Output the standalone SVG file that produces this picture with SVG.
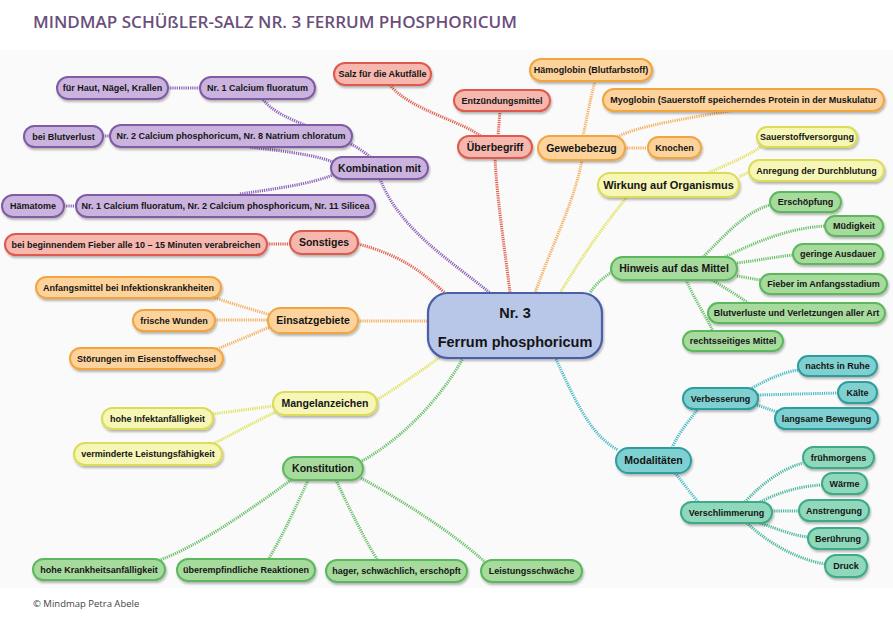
<svg xmlns="http://www.w3.org/2000/svg" width="893" height="619" viewBox="0 0 893 619">
<defs>
<filter id="sh" x="-10%" y="-30%" width="120%" height="170%">
<feDropShadow dx="1" dy="2" stdDeviation="1.2" flood-color="#000" flood-opacity="0.28"/>
</filter>
<style>
text{font-family:"Liberation Sans",Arial,sans-serif;font-weight:bold;fill:#151515;text-anchor:middle}
.s{font-size:9px}
.m{font-size:10.5px}
.n rect{stroke-width:2;filter:url(#sh)}
.pu rect{fill:#cbb3df;stroke:#7f5ca3}
.re rect{fill:#f5b7ae;stroke:#df5a4e}
.or rect{fill:#fcd39c;stroke:#f2a43e}
.ye rect{fill:#f6f6b6;stroke:#dcdc58}
.gr rect{fill:#a7da9d;stroke:#5cb85c}
.te rect{fill:#7fd0d0;stroke:#2f9d9d}
.mi rect{fill:#8fd8bc;stroke:#3caa88}
.ce rect{fill:#b8c6e8;stroke:#4b5ea8;stroke-width:2.2}
#connectors path{fill:none;stroke-width:3;stroke-dasharray:1.2 1}
.cp{stroke:#8b62b8}
.cr{stroke:#e0604f}
.co{stroke:#f5b060}
.cy{stroke:#e2e25c}
.cg{stroke:#6cc06c}
.ct{stroke:#4cbcc6}
.cm{stroke:#4cb8a0}
</style>
</defs>
<rect x="0" y="0" width="893" height="619" fill="#ffffff"/>
<rect x="0" y="50" width="893" height="538" fill="#fafafa"/>
<text x="33" y="28" textLength="484" lengthAdjust="spacingAndGlyphs" style="font-family:'Open Sans','Lato',sans-serif;font-size:15.5px;font-weight:600;fill:#6b4f7b;text-anchor:start">MINDMAP SCHÜßLER-SALZ NR. 3 FERRUM PHOSPHORICUM</text>
<text x="33" y="607" style="font-family:'Open Sans','Lato',sans-serif;font-size:9.5px;font-weight:normal;fill:#444;text-anchor:start">© Mindmap Petra Abele</text>

<g id="connectors">
<path class="cp" d="M168,88 L200,88"/>
<path class="cp" d="M262,98 C280,125 340,130 370,157"/>
<path class="cp" d="M103,136 L110,136"/>
<path class="cp" d="M250,147 C290,152 315,155 333,162"/>
<path class="cp" d="M64,206 L76,206"/>
<path class="cp" d="M240,194 C280,188 310,184 333,175"/>
<path class="cp" d="M380,179 C400,230 450,260 490,293"/>
<path class="cr" d="M390,85 C410,110 460,120 482,137"/>
<path class="cr" d="M500,111 L498,136"/>
<path class="cr" d="M495,158 C497,200 505,250 510,293"/>
<path class="cr" d="M267,244 L290,244"/>
<path class="cr" d="M358,244 C400,255 420,270 445,293"/>
<path class="co" d="M595,81 C590,100 587,118 583,136"/>
<path class="co" d="M730,111 C690,118 640,125 617,137"/>
<path class="co" d="M625,148 L648,148"/>
<path class="co" d="M582,160 C575,200 550,250 535,293"/>
<path class="co" d="M358,321 L428,321"/>
<path class="co" d="M213,297 C235,305 255,310 270,315"/>
<path class="co" d="M215,320 L268,320"/>
<path class="co" d="M217,349 C235,342 255,333 270,327"/>
<path class="cy" d="M762,146 C745,158 725,165 708,173"/>
<path class="cy" d="M749,172 L739,177"/>
<path class="cy" d="M627,197 C600,230 580,260 560,293"/>
<path class="cy" d="M377,400 C400,385 420,372 440,357"/>
<path class="cy" d="M213,414 L273,406"/>
<path class="cy" d="M215,443 C240,430 258,420 276,412"/>
<path class="cg" d="M612,272 C600,280 595,285 590,293"/>
<path class="cg" d="M703,257 C725,235 745,212 770,205"/>
<path class="cg" d="M725,257 C760,240 790,228 825,226"/>
<path class="cg" d="M737,263 C760,260 775,257 793,255"/>
<path class="cg" d="M737,276 L760,280"/>
<path class="cg" d="M712,280 C725,288 737,295 748,303"/>
<path class="cg" d="M686,280 C695,300 705,315 713,331"/>
<path class="cg" d="M362,461 C400,440 440,400 463,358"/>
<path class="cg" d="M291,480 C250,510 200,545 160,560"/>
<path class="cg" d="M308,480 C295,510 280,540 268,560"/>
<path class="cg" d="M336,480 C350,510 365,540 378,561"/>
<path class="cg" d="M361,478 C410,505 455,535 485,562"/>
<path class="ct" d="M555,357 C575,400 590,435 618,450"/>
<path class="ct" d="M672,448 C680,430 690,420 698,409"/>
<path class="ct" d="M675,473 C685,485 692,495 698,502"/>
<path class="ct" d="M752,388 C770,378 785,372 798,370"/>
<path class="ct" d="M758,395 L838,393"/>
<path class="ct" d="M757,405 L777,412"/>
<path class="cm" d="M745,502 C765,480 785,468 803,463"/>
<path class="cm" d="M760,502 C780,492 800,486 822,485"/>
<path class="cm" d="M772,511 L799,511"/>
<path class="cm" d="M760,523 C780,530 795,536 808,537"/>
<path class="cm" d="M747,523 C770,545 800,560 825,564"/>
</g>

<g id="center" class="n ce"><rect x="428" y="293" width="174" height="65" rx="20"/><text x="515" y="318" style="font-size:14.5px">Nr. 3</text><text x="515" y="347" style="font-size:14.5px">Ferrum phosphoricum</text></g>

<g id="p1" class="n pu"><rect x="57" y="77" width="111" height="22" rx="11"/><text class="s" x="112.5" y="91.2">für Haut, Nägel, Krallen</text></g>
<g id="p2" class="n pu"><rect x="200" y="77" width="115" height="22" rx="11"/><text class="s" x="257.5" y="91.2">Nr. 1 Calcium fluoratum</text></g>
<g id="p3" class="n pu"><rect x="24" y="126" width="79" height="21" rx="10.5"/><text class="s" x="63.5" y="139.7">bei Blutverlust</text></g>
<g id="p4" class="n pu"><rect x="110" y="125" width="242" height="22" rx="11"/><text class="s" x="231" y="139.2">Nr. 2 Calcium phosphoricum, Nr. 8 Natrium chloratum</text></g>
<g id="p5" class="n pu"><rect x="331" y="157" width="97" height="22" rx="11"/><text class="m" x="379.5" y="171.8">Kombination mit</text></g>
<g id="p6" class="n pu"><rect x="2" y="195" width="62" height="22" rx="11"/><text class="s" x="33" y="209.2">Hämatome</text></g>
<g id="p7" class="n pu"><rect x="76" y="195" width="299" height="22" rx="11"/><text class="s" x="225.5" y="209.2">Nr. 1 Calcium fluoratum, Nr. 2 Calcium phosphoricum, Nr. 11 Silicea</text></g>

<g id="r1" class="n re"><rect x="334" y="63" width="97" height="22" rx="11"/><text class="s" x="382.5" y="77.2">Salz für die Akutfälle</text></g>
<g id="r2" class="n re"><rect x="454" y="90" width="96" height="21" rx="10.5"/><text class="s" x="502" y="103.7">Entzündungsmittel</text></g>
<g id="r3" class="n re"><rect x="458" y="136" width="74" height="22" rx="11"/><text class="m" x="495" y="150.8">Überbegriff</text></g>
<g id="r4" class="n re"><rect x="290" y="231" width="68" height="23" rx="11.5"/><text class="m" x="324" y="246.3">Sonstiges</text></g>
<g id="r5" class="n re"><rect x="5" y="234" width="262" height="21" rx="10.5"/><text class="s" x="136" y="247.7">bei beginnendem Fieber alle 10 – 15 Minuten verabreichen</text></g>

<g id="o1" class="n or"><rect x="530" y="59" width="122" height="22" rx="11"/><text class="s" x="591" y="73.2">Hämoglobin (Blutfarbstoff)</text></g>
<g id="o2" class="n or"><rect x="603" y="89" width="281" height="22" rx="11"/><text class="s" x="743.5" y="103.2">Myoglobin (Sauerstoff speicherndes Protein in der Muskulatur</text></g>
<g id="o3" class="n or"><rect x="538" y="136" width="87" height="24" rx="12"/><text class="m" x="581.5" y="151.8">Gewebebezug</text></g>
<g id="o4" class="n or"><rect x="648" y="137" width="53" height="21" rx="10.5"/><text class="s" x="674.5" y="150.7">Knochen</text></g>
<g id="o5" class="n or"><rect x="268" y="308" width="90" height="25" rx="12.5"/><text class="m" x="313" y="324.3">Einsatzgebiete</text></g>
<g id="o6" class="n or"><rect x="36" y="277" width="185" height="21" rx="10.5"/><text class="s" x="128.5" y="290.7">Anfangsmittel bei Infektionskrankheiten</text></g>
<g id="o7" class="n or"><rect x="133" y="310" width="82" height="21" rx="10.5"/><text class="s" x="174" y="323.7">frische Wunden</text></g>
<g id="o8" class="n or"><rect x="70" y="348" width="153" height="21" rx="10.5"/><text class="s" x="146.5" y="361.7">Störungen im Eisenstoffwechsel</text></g>

<g id="y1" class="n ye"><rect x="598" y="173" width="141" height="24" rx="12"/><text x="668.5" y="189" style="font-size:11px">Wirkung auf Organismus</text></g>
<g id="y2" class="n ye"><rect x="757" y="127" width="100" height="20" rx="10"/><text class="s" x="807" y="140.2">Sauerstoffversorgung</text></g>
<g id="y3" class="n ye"><rect x="749" y="160" width="135" height="21" rx="10.5"/><text class="s" x="816.5" y="173.7">Anregung der Durchblutung</text></g>
<g id="y4" class="n ye"><rect x="273" y="392" width="104" height="23" rx="11.5"/><text class="m" x="325" y="407.3">Mangelanzeichen</text></g>
<g id="y5" class="n ye"><rect x="102" y="408" width="111" height="21" rx="10.5"/><text class="s" x="157.5" y="421.7">hohe Infektanfälligkeit</text></g>
<g id="y6" class="n ye"><rect x="74" y="443" width="148" height="22" rx="11"/><text class="s" x="148" y="457.2">verminderte Leistungsfähigkeit</text></g>

<g id="g1" class="n gr"><rect x="611" y="257" width="126" height="23" rx="11.5"/><text class="m" x="674" y="272.3">Hinweis auf das Mittel</text></g>
<g id="g2" class="n gr"><rect x="770" y="192" width="71" height="20" rx="10"/><text class="s" x="805.5" y="205.2">Erschöpfung</text></g>
<g id="g3" class="n gr"><rect x="825" y="216" width="58" height="20" rx="10"/><text class="s" x="854" y="229.2">Müdigkeit</text></g>
<g id="g4" class="n gr"><rect x="793" y="244" width="90" height="20" rx="10"/><text class="s" x="838" y="257.2">geringe Ausdauer</text></g>
<g id="g5" class="n gr"><rect x="760" y="274" width="127" height="20" rx="10"/><text class="s" x="823.5" y="287.2">Fieber im Anfangsstadium</text></g>
<g id="g6" class="n gr"><rect x="708" y="303" width="177" height="20" rx="10"/><text class="s" x="796.5" y="316.2">Blutverluste und Verletzungen aller Art</text></g>
<g id="g7" class="n gr"><rect x="683" y="331" width="100" height="20" rx="10"/><text class="s" x="733" y="344.2">rechtsseitiges Mittel</text></g>
<g id="g8" class="n gr"><rect x="283" y="457" width="80" height="23" rx="11.5"/><text class="m" x="323" y="472.3">Konstitution</text></g>
<g id="g9" class="n gr"><rect x="33" y="559" width="132" height="21" rx="10.5"/><text class="s" x="99" y="572.7">hohe Krankheitsanfälligkeit</text></g>
<g id="g10" class="n gr"><rect x="177" y="559" width="138" height="22" rx="11"/><text class="s" x="246" y="573.2">überempfindliche Reaktionen</text></g>
<g id="g11" class="n gr"><rect x="326" y="560" width="141" height="22" rx="11"/><text class="s" x="396.5" y="574.2">hager, schwächlich, erschöpft</text></g>
<g id="g12" class="n gr"><rect x="481" y="560" width="101" height="22" rx="11"/><text class="s" x="531.5" y="574.2">Leistungsschwäche</text></g>

<g id="t1" class="n te"><rect x="616" y="448" width="75" height="25" rx="12.5"/><text class="m" x="653.5" y="464.3">Modalitäten</text></g>
<g id="t2" class="n te"><rect x="683" y="388" width="75" height="21" rx="10.5"/><text class="s" x="720.5" y="401.7">Verbesserung</text></g>
<g id="t3" class="n te"><rect x="798" y="356" width="79" height="20" rx="10"/><text class="s" x="837.5" y="369.2">nachts in Ruhe</text></g>
<g id="t4" class="n te"><rect x="838" y="382" width="39" height="21" rx="10.5"/><text class="s" x="857.5" y="395.7">Kälte</text></g>
<g id="t5" class="n te"><rect x="775" y="408" width="103" height="21" rx="10.5"/><text class="s" x="826.5" y="421.7">langsame Bewegung</text></g>
<g id="t6" class="n mi"><rect x="681" y="502" width="91" height="21" rx="10.5"/><text class="s" x="726.5" y="515.7">Verschlimmerung</text></g>
<g id="t7" class="n mi"><rect x="803" y="447" width="71" height="21" rx="10.5"/><text class="s" x="838.5" y="460.7">frühmorgens</text></g>
<g id="t8" class="n mi"><rect x="822" y="473" width="45" height="21" rx="10.5"/><text class="s" x="844.5" y="486.7">Wärme</text></g>
<g id="t9" class="n mi"><rect x="799" y="500" width="70" height="21" rx="10.5"/><text class="s" x="834" y="513.7">Anstrengung</text></g>
<g id="t10" class="n mi"><rect x="808" y="528" width="60" height="21" rx="10.5"/><text class="s" x="838" y="541.7">Berührung</text></g>
<g id="t11" class="n mi"><rect x="825" y="555" width="42" height="22" rx="11"/><text class="s" x="846" y="569.2">Druck</text></g>
</svg>
